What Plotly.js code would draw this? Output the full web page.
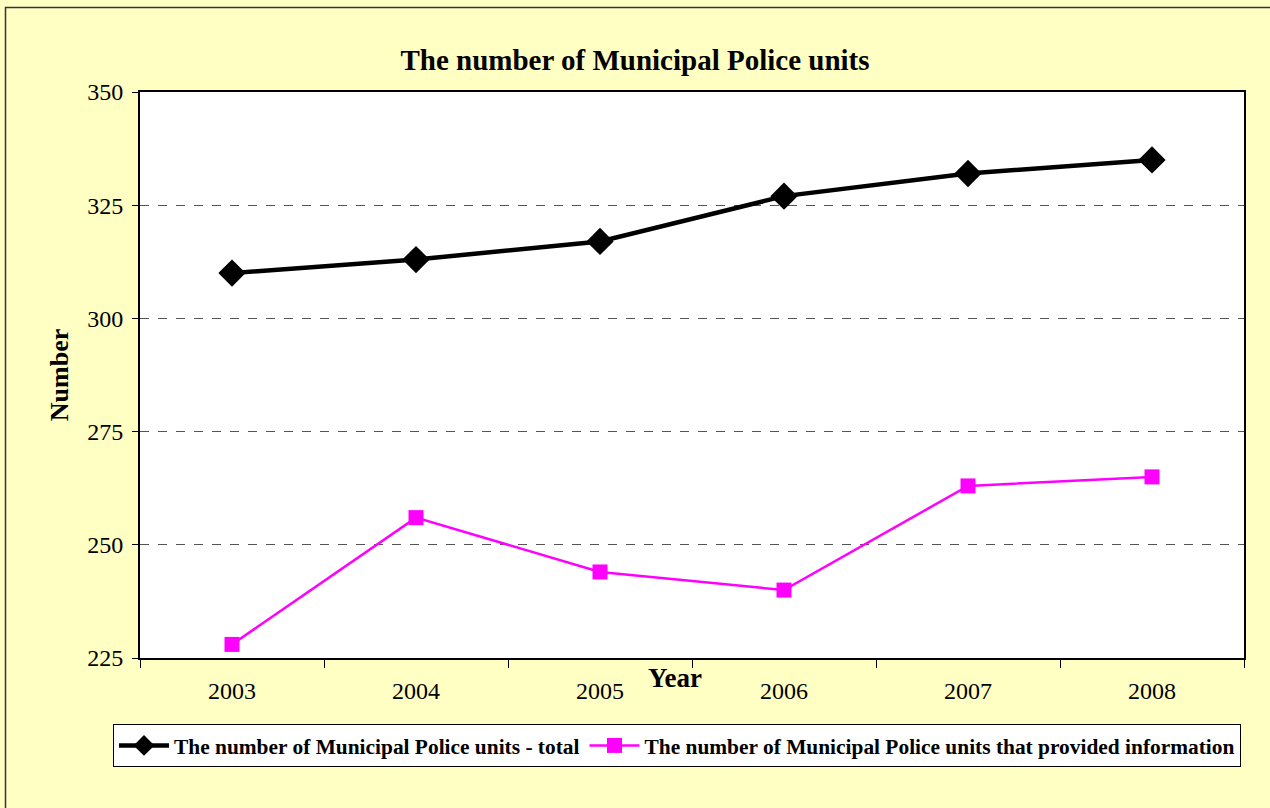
<!DOCTYPE html>
<html>
<head>
<meta charset="utf-8">
<script src="https://cdn.plot.ly/plotly-3.0.1.min.js"></script>
<style>html,body{margin:0;padding:0;background:#FFFFC4;}</style>
</head>
<body>
<div id="chart" style="width:1270px;height:808px;"></div>
<script>
const years = ['2003', '2004', '2005', '2006', '2007', '2008'];
const totalUnits = [310, 313, 317, 327, 332, 335];
const providedInfo = [228, 256, 244, 240, 263, 265];
const seriesNames = ['The number of Municipal Police units - total', 'The number of Municipal Police units that provided information'];

const serif = 'Liberation Serif, Times New Roman, serif';
const L = 140, R = 1244, T = 92, B = 658;
const W = R - L, H = B - T;
const px = x => (x - L) / W;
const py = y => (B - y) / H;

const traces = [
  {
    x: years, y: totalUnits, name: seriesNames[0], type: 'scatter', mode: 'lines+markers',
    line: {color: '#000000', width: 4.5},
    marker: {symbol: 'diamond', size: 21, color: '#000000'}
  },
  {
    x: years, y: providedInfo, name: seriesNames[1], type: 'scatter', mode: 'lines+markers',
    line: {color: '#FF00FF', width: 2.5},
    marker: {symbol: 'square', size: 15, color: '#FF00FF'}
  }
];

const layout = {
  width: 1270, height: 808,
  paper_bgcolor: '#FFFFC4',
  plot_bgcolor: '#FFFFFF',
  margin: {l: L, r: 1270 - R, t: T, b: 808 - B, pad: 0},
  title: {text: '<b>The number of Municipal Police units</b>', font: {family: serif, size: 29, color: '#000'}, x: 0.5, xanchor: 'center', y: 1 - 60/808, yanchor: 'middle'},
  showlegend: true,
  legend: {
    orientation: 'h', x: px(113), xanchor: 'left', y: py(724), yanchor: 'top',
    bgcolor: '#FFFFFF', bordercolor: '#000000', borderwidth: 1,
    font: {family: serif, size: 21.4, color: '#000', weight: 'bold'},
    itemwidth: 50, tracegroupgap: 0
  },
  xaxis: {
    type: 'category', tickson: 'boundaries', ticks: 'outside', ticklen: 8, tickwidth: 1, tickcolor: '#000',
    showline: true, linecolor: '#000', linewidth: 2, mirror: true, showgrid: false,
    ticklabelstandoff: 10,
    tickfont: {family: serif, size: 24, color: '#000'}, range: [-0.5, 5.5], fixedrange: true
  },
  yaxis: {
    range: [225, 350], dtick: 25, tick0: 225, ticks: 'outside', ticklen: 6, tickwidth: 1, tickcolor: '#000',
    showline: true, linecolor: '#000', linewidth: 2, mirror: true,
    showgrid: true, gridcolor: '#555555', griddash: 'dash', gridwidth: 1,
    zeroline: false, ticklabelstandoff: 4,
    tickfont: {family: serif, size: 24, color: '#000'},
    title: {text: '<b>Number</b>', font: {family: serif, size: 26, color: '#000'}, standoff: 11}
  },
  annotations: [
    {text: '<b>Year</b>', xref: 'paper', yref: 'paper', x: px(675), y: py(678), xanchor: 'center', yanchor: 'middle', showarrow: false, font: {family: serif, size: 27, color: '#000'}}
  ],
  shapes: [
    {type: 'rect', xref: 'paper', yref: 'paper', x0: px(5.5), x1: px(1290), y0: py(7.5), y1: py(830), line: {color: '#333333', width: 1.5}, fillcolor: 'rgba(0,0,0,0)', layer: 'above'}
  ]
};

Plotly.newPlot('chart', traces, layout, {displayModeBar: false, staticPlot: true});
</script>
</body>
</html>
